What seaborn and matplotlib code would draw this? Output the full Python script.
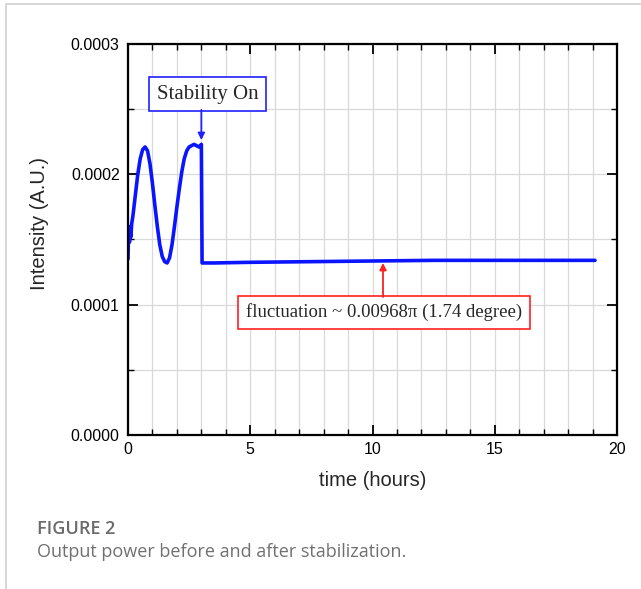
import numpy as np
import pandas as pd
import matplotlib
matplotlib.use("Agg")
import matplotlib.pyplot as plt
from matplotlib.patches import Rectangle
from matplotlib.ticker import MultipleLocator, FuncFormatter
import seaborn as sns

# Measured intensity trace (hours, arbitrary units)
time_hours = [0.0, 0.03, 0.06, 0.09, 0.12, 0.15, 0.2, 0.3, 0.4, 0.5, 0.6, 0.7,
              0.8, 0.9, 1.0, 1.1, 1.2, 1.3, 1.4, 1.5, 1.6, 1.7, 1.8, 1.9,
              2.0, 2.1, 2.2, 2.3, 2.4, 2.5, 2.6, 2.7, 2.8, 2.9, 3.0, 3.03,
              3.5, 5.0, 7.5, 10.0, 12.5, 15.0, 17.5, 19.1]
intensity = [0.000135, 0.000160, 0.000148, 0.000158, 0.000152, 0.000162,
             0.000168, 0.000184, 0.000200, 0.000212, 0.000219, 0.000221,
             0.000218, 0.000208, 0.000193, 0.000176, 0.000160, 0.000146,
             0.000137, 0.000133, 0.000132, 0.000136, 0.000146, 0.000160,
             0.000175, 0.000189, 0.000202, 0.000212, 0.000218, 0.000221,
             0.000222, 0.000223, 0.000222, 0.000221, 0.000223, 0.000132,
             0.000132, 0.0001325, 0.000133, 0.0001335, 0.000134, 0.000134,
             0.000134, 0.000134]

stability_label = "Stability On"
stability_time = 3.0
fluct_label = "fluctuation ~ 0.00968\u03c0 (1.74 degree)"
fluct_time = 10.43

df = pd.DataFrame({"time": time_hours, "intensity": intensity})

sns.set_theme(style="white")
plt.rcParams["font.family"] = ["Liberation Sans", "DejaVu Sans"]

fig = plt.figure(figsize=(6.41, 5.89), dpi=100)
ax = fig.add_axes([128 / 641, 1 - 435 / 589, 489 / 641, 391 / 589])

# card border
fig.patches.append(Rectangle((6 / 641, -0.1), 1.2, 1 - 4 / 589 + 0.1,
                             transform=fig.transFigure, fill=False,
                             edgecolor="#d0d0d0", linewidth=1.2))

sns.lineplot(data=df, x="time", y="intensity", ax=ax, color="#0a14ff",
             linewidth=2.6, estimator=None, sort=False)

ax.set_xlim(0, 20)
ax.set_ylim(0, 0.0003)
ax.xaxis.set_major_locator(MultipleLocator(5))
ax.xaxis.set_minor_locator(MultipleLocator(1))
ax.yaxis.set_major_locator(MultipleLocator(0.0001))
ax.yaxis.set_minor_locator(MultipleLocator(0.00005))
ax.yaxis.set_major_formatter(FuncFormatter(lambda v, p: f"{v:.4f}"))
ax.grid(True, which="both", color="#d9d9d9", linewidth=0.9)
ax.set_axisbelow(True)
ax.tick_params(which="both", direction="in", top=True, right=True,
               bottom=True, left=True, colors="black", labelsize=11.5)
ax.tick_params(which="major", length=7, width=1.3)
ax.tick_params(which="minor", length=4, width=1.0)
ax.tick_params(axis="x", pad=5)
ax.tick_params(axis="y", pad=6)
for s in ax.spines.values():
    s.set_edgecolor("black")
    s.set_linewidth(1.6)

ax.set_xlabel("time (hours)", fontsize=14.5, labelpad=10)
ax.set_ylabel("Intensity (A.U.)", fontsize=14.5)
ax.yaxis.set_label_coords(-0.162, 0.54)

# "Stability On" callout
ax.text(3.25, 0.0002616, stability_label, ha="center", va="center",
        fontsize=15, family="Liberation Serif",
        bbox=dict(boxstyle="square,pad=0.35", fc="white", ec="#2020ff", lw=1.2))
ax.annotate("", xy=(stability_time, 0.0002263), xytext=(stability_time, 0.0002494),
            arrowprops=dict(arrowstyle="-|>", color="#2020ff", lw=1.3,
                            mutation_scale=10, shrinkA=0, shrinkB=0))

# fluctuation callout
ax.text(10.47, 0.000094, fluct_label, ha="center", va="center",
        fontsize=13.5, family="Liberation Serif",
        bbox=dict(boxstyle="square,pad=0.4", fc="white", ec="#ff2020", lw=1.2))
ax.annotate("", xy=(fluct_time, 0.000132), xytext=(fluct_time, 0.0001059),
            arrowprops=dict(arrowstyle="-|>", color="#ff2020", lw=1.3,
                            mutation_scale=10, shrinkA=0, shrinkB=0))

fig.text(37 / 641, 1 - 529 / 589, "FIGURE 2", fontsize=13, fontweight="semibold",
         color="#6a6a6a", family=["Open Sans", "DejaVu Sans"], va="center")
fig.text(37 / 641, 1 - 552 / 589, "Output power before and after stabilization.",
         fontsize=13, color="#707070", family=["Open Sans", "DejaVu Sans"],
         va="center")

fig.savefig("out.png", dpi=100)
